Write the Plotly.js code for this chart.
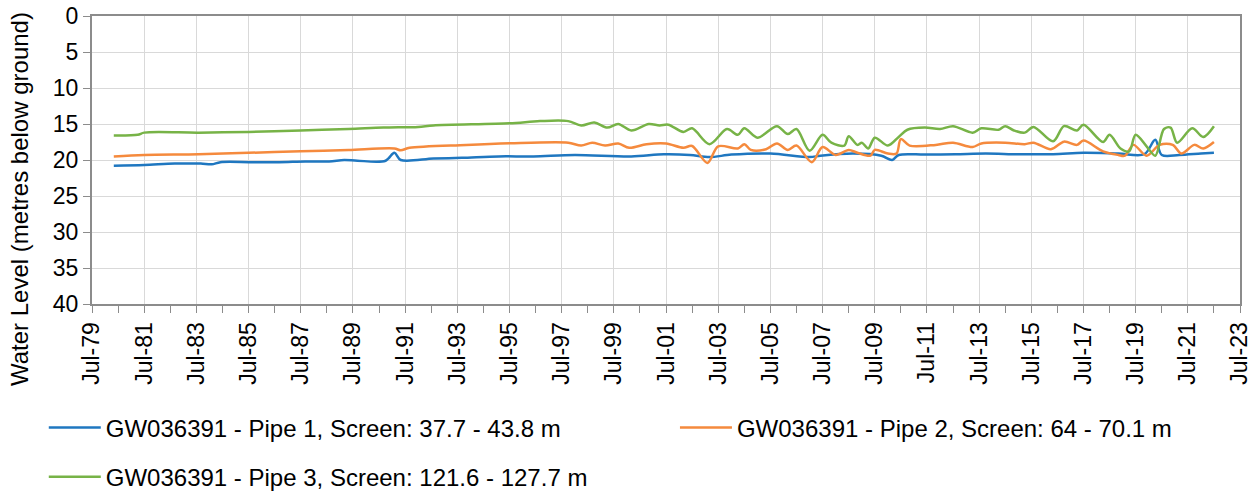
<!DOCTYPE html>
<html>
<head>
<meta charset="utf-8">
<script src="https://cdn.plot.ly/plotly-3.0.1.min.js"></script>
<style>html,body{margin:0;padding:0;background:#fff;}#chart{width:1258px;height:491px;}</style>
</head>
<body>
<div id="chart"></div>
<script>
const pipe1Dates = ['1980-05','1981-07','1982-09','1983-09','1984-02','1984-06','1985-08','1986-09','1987-09','1988-08','1989-03','1989-09','1990-10','1991-02','1991-05','1992-08','1993-09','1995-02','1996-06','1998-01','2000-03','2001-06','2002-06','2003-03','2004-01','2005-07','2007-01','2007-06','2008-09','2009-10','2010-03','2010-06','2011-06','2012-08','2013-10','2015-01','2016-05','2017-07','2018-11','2019-11','2020-04','2020-07','2021-03','2022-01','2022-07'];
const pipe1Levels = [20.8,20.7,20.5,20.5,20.6,20.3,20.3,20.3,20.2,20.2,20.0,20.1,20.1,19.0,20.0,19.8,19.7,19.5,19.5,19.3,19.5,19.2,19.3,19.6,19.25,19.1,19.6,19.4,19.1,19.4,20.0,19.3,19.25,19.2,19.1,19.2,19.2,19.0,19.1,19.2,17.2,19.3,19.3,19.1,19.0];

const pipe2Dates = ['1980-05','1981-07','1983-08','1985-07','1987-07','1989-05','1991-02','1991-05','1991-09','1993-11','1996-05','1997-10','1998-04','1998-09','1999-03','1999-09','2000-02','2000-10','2001-07','2002-03','2002-07','2003-02','2003-07','2004-04','2004-07','2004-10','2005-05','2005-10','2006-03','2006-07','2007-02','2007-07','2008-01','2008-07','2008-11','2009-05','2009-07','2010-01','2010-05','2010-07','2010-11','2011-11','2012-07','2013-04','2013-08','2014-07','2015-04','2015-08','2016-04','2016-10','2017-04','2017-07','2018-04','2018-11','2019-02','2019-06','2019-12','2020-06','2020-12','2021-04','2021-10','2022-02','2022-07'];
const pipe2Levels = [19.5,19.3,19.2,19.0,18.8,18.6,18.4,18.65,18.3,17.9,17.6,17.6,18.0,17.6,18.0,17.7,18.3,17.8,17.7,18.3,18.05,20.4,18.1,18.4,17.8,18.6,18.5,17.7,18.6,18.0,20.3,18.2,19.3,18.6,19.0,19.4,18.6,19.1,19.1,17.1,18.0,17.9,17.6,18.2,17.7,17.6,17.8,17.6,18.5,17.45,17.9,17.3,18.8,19.3,19.4,17.9,19.4,17.9,17.9,19.1,17.9,18.4,17.5];

const pipe3Dates = ['1980-05','1981-04','1981-07','1983-08','1985-07','1987-07','1989-05','1990-09','1992-01','1992-08','1995-07','1996-09','1997-10','1998-04','1998-10','1999-04','1999-09','2000-03','2000-11','2001-04','2001-08','2002-03','2002-07','2003-03','2003-11','2004-04','2004-07','2005-01','2005-10','2006-03','2006-07','2007-01','2007-07','2007-11','2008-05','2008-07','2008-11','2009-01','2009-04','2009-07','2010-01','2010-06','2010-10','2011-06','2012-01','2012-07','2013-04','2013-08','2014-04','2014-07','2014-11','2015-04','2015-08','2016-05','2016-10','2017-04','2017-07','2018-04','2018-07','2018-12','2019-04','2019-07','2019-12','2020-04','2020-08','2020-11','2021-02','2021-09','2022-02','2022-07'];
const pipe3Levels = [16.6,16.5,16.2,16.2,16.1,15.9,15.7,15.5,15.4,15.2,14.9,14.6,14.6,15.2,14.8,15.5,15.0,15.9,15.0,15.2,15.1,16.1,15.6,17.8,15.7,16.5,15.6,16.9,15.3,16.4,15.7,18.7,16.5,17.6,18.0,16.7,17.9,17.6,18.4,16.9,18.0,16.8,15.8,15.5,15.7,15.3,16.2,15.6,15.8,15.3,15.9,16.2,15.4,17.4,15.3,15.9,15.1,17.5,16.5,18.4,18.8,16.5,18.1,19.4,15.7,15.5,17.6,15.6,16.8,15.3];

const seriesNames = [
  'GW036391 - Pipe 1, Screen: 37.7 - 43.8 m',
  'GW036391 - Pipe 2, Screen: 64 - 70.1 m',
  'GW036391 - Pipe 3, Screen: 121.6 - 127.7 m'
];
const seriesColors = ['#1F77C0', '#F58A3D', '#77B347'];
const yTickVals = [0,5,10,15,20,25,30,35,40];
const yTitle = 'Water Level (metres below ground)';

const FONT = 'Arial, "Liberation Sans", sans-serif';
const mk = (x, y, i, leg) => ({
  x: x, y: y, name: seriesNames[i], type: 'scatter', mode: 'lines',
  line: {color: seriesColors[i], width: 2.5, shape: 'spline', smoothing: 0.9},
  legend: leg
});

const data = [
  mk(pipe1Dates, pipe1Levels, 0, 'legend'),
  mk(pipe2Dates, pipe2Levels, 1, 'legend2'),
  mk(pipe3Dates, pipe3Levels, 2, 'legend3')
];

const legFont = {family: FONT, size: 24, color: '#000'};
const legBase = {orientation: 'h', xanchor: 'left', yanchor: 'top', font: legFont, itemwidth: 52, bgcolor: 'rgba(0,0,0,0)'};

const layout = {
  width: 1258, height: 491,
  margin: {l: 92, r: 18, t: 16, b: 187, autoexpand: false},
  paper_bgcolor: '#fff', plot_bgcolor: '#fff',
  font: {family: FONT, size: 23, color: '#000'},
  showlegend: true,
  xaxis: {
    type: 'date',
    range: ['1979-07-01', '2023-07-01'],
    tick0: '1979-07-01', dtick: 'M24', tickformat: '%b-%y',
    tickangle: -90,
    ticks: 'outside', ticklen: 7, tickcolor: '#8c8c8c', tickwidth: 1,
    minor: {dtick: 'M12', tick0: '1979-07-01', ticks: 'outside', ticklen: 7, tickcolor: '#8c8c8c', showgrid: false},
    showgrid: true, gridcolor: '#d9d9d9', gridwidth: 1,
    showline: true, linecolor: '#8c8c8c', linewidth: 2, mirror: true,
    zeroline: false,
    tickfont: {family: FONT, size: 23, color: '#000'}
  },
  yaxis: {
    range: [40, 0],
    tickvals: yTickVals,
    ticks: 'outside', ticklen: 7, tickcolor: '#8c8c8c',
    showgrid: true, gridcolor: '#d9d9d9', gridwidth: 1,
    showline: true, linecolor: '#8c8c8c', linewidth: 2, mirror: true,
    zeroline: false,
    tickfont: {family: FONT, size: 23, color: '#000'}
  },
  annotations: [{
    text: yTitle, textangle: -90, showarrow: false,
    xref: 'paper', yref: 'paper', x: -0.0627, y: 0.3646,
    xanchor: 'center', yanchor: 'middle',
    font: {family: FONT, size: 24, color: '#000'}
  }],
  legend: Object.assign({}, legBase, {x: -0.042, y: -0.352}),
  legend2: Object.assign({}, legBase, {x: 0.5078, y: -0.352}),
  legend3: Object.assign({}, legBase, {x: -0.042, y: -0.523})
};

Plotly.newPlot('chart', data, layout, {staticPlot: true, displayModeBar: false});
</script>
</body>
</html>
